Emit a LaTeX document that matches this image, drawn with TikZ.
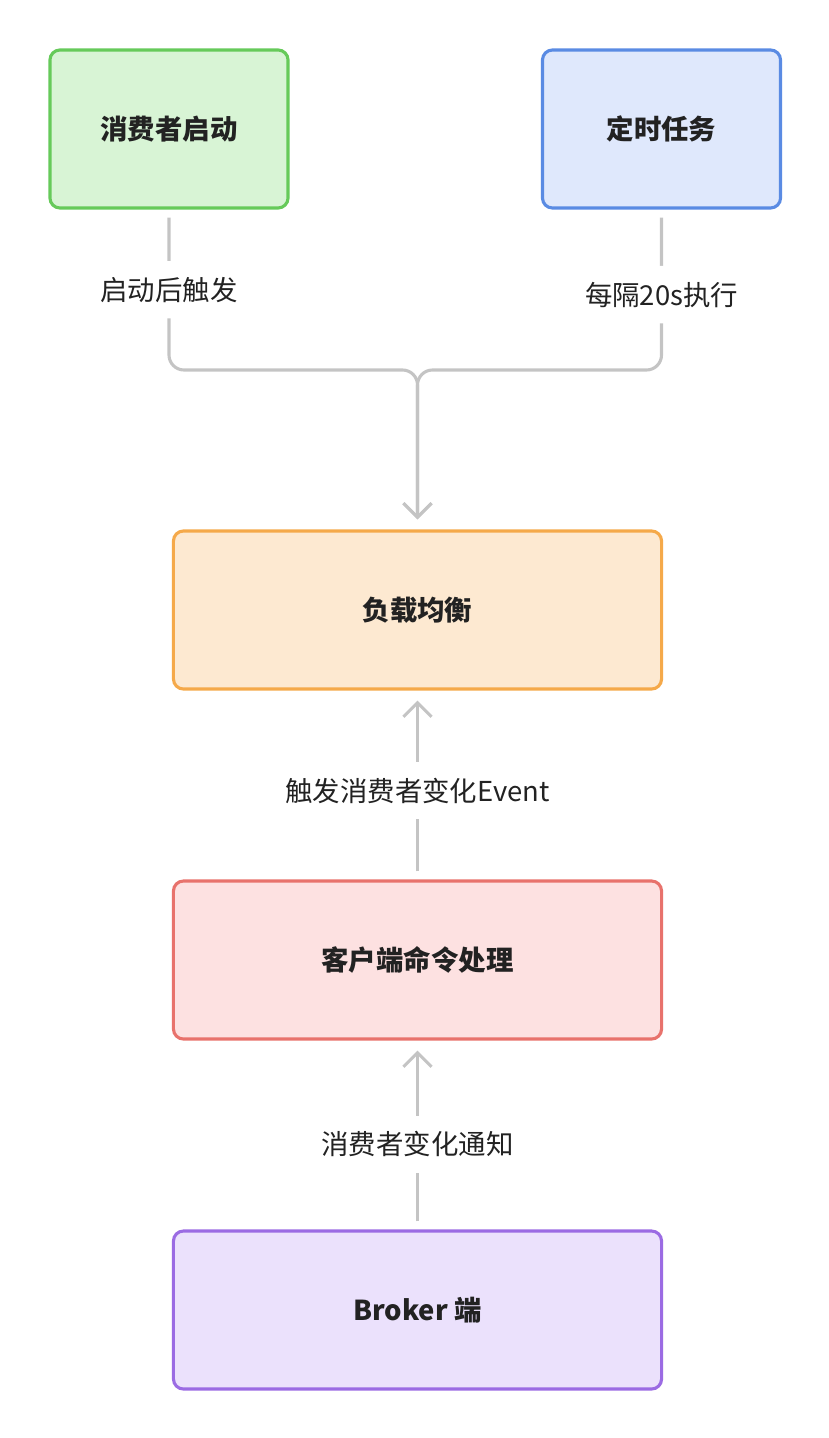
\documentclass[tikz,border=0pt]{standalone}
\usepackage{fontspec}
\setmainfont{Noto Sans CJK SC}
\usetikzlibrary{arrows.meta}
\definecolor{grnfill}{HTML}{D8F4D5}
\definecolor{grnline}{HTML}{66CA5A}
\definecolor{bluefill}{HTML}{DFE8FC}
\definecolor{blueline}{HTML}{5A8BE3}
\definecolor{orgfill}{HTML}{FDE9D1}
\definecolor{orgline}{HTML}{F5A94A}
\definecolor{redfill}{HTML}{FDE1E1}
\definecolor{redline}{HTML}{E8726C}
\definecolor{purfill}{HTML}{EBE1FC}
\definecolor{purline}{HTML}{9B6BE3}
\definecolor{linkgray}{HTML}{C4C4C4}
\definecolor{textdark}{HTML}{222222}
\tikzset{
  box/.style={draw,rounded corners=0.25cm,line width=2.2pt,minimum height=3.95cm,
    text=textdark,font=\fontsize{19.5}{23}\selectfont\bfseries},
  lbl/.style={fill=white,inner xsep=2pt,inner ysep=0.4cm,text=textdark,
    font=\fontsize{19.5}{23}\selectfont},
  link/.style={draw=linkgray,line width=2.2pt,shorten <=0.2cm,shorten >=0.25cm,
    -{Straight Barb[length=0.35cm,width=0.7cm]}}
}
\begin{document}
\begin{tikzpicture}[x=0.025cm,y=-0.025cm]
  \useasboundingbox (0,0) rectangle (828,1438);
  \node[box,fill=grnfill,draw=grnline,minimum width=5.95cm] (start) at (169,129) {消费者启动};
  \node[box,fill=bluefill,draw=blueline,minimum width=5.95cm] (timer) at (661.5,129) {定时任务};
  \node[box,fill=orgfill,draw=orgline,minimum width=12.2cm] (lb) at (417.5,610) {负载均衡};
  \node[box,fill=redfill,draw=redline,minimum width=12.2cm] (cmd) at (417.5,960) {客户端命令处理};
  \node[box,fill=purfill,draw=purline,minimum width=12.2cm] (broker) at (417.5,1310) {Broker 端};
  \coordinate (merge) at (417.5,370);
  % two triggers join above the load balancer
  \draw[link,rounded corners=0.375cm] (start.south) -- node[lbl,pos=0.5] {启动后触发} (start.south |- merge) -- (merge) -- (lb.north);
  \draw[link,rounded corners=0.375cm] (timer.south) -- node[lbl,pos=0.53] {每隔20s执行} (timer.south |- merge) -- (merge) -- (lb.north);
  \draw[link] (cmd.north) -- node[lbl,pos=0.47] {触发消费者变化Event} (lb.south);
  \draw[link] (broker.north) -- node[lbl,pos=0.45] {消费者变化通知} (cmd.south);
\end{tikzpicture}
\end{document}
